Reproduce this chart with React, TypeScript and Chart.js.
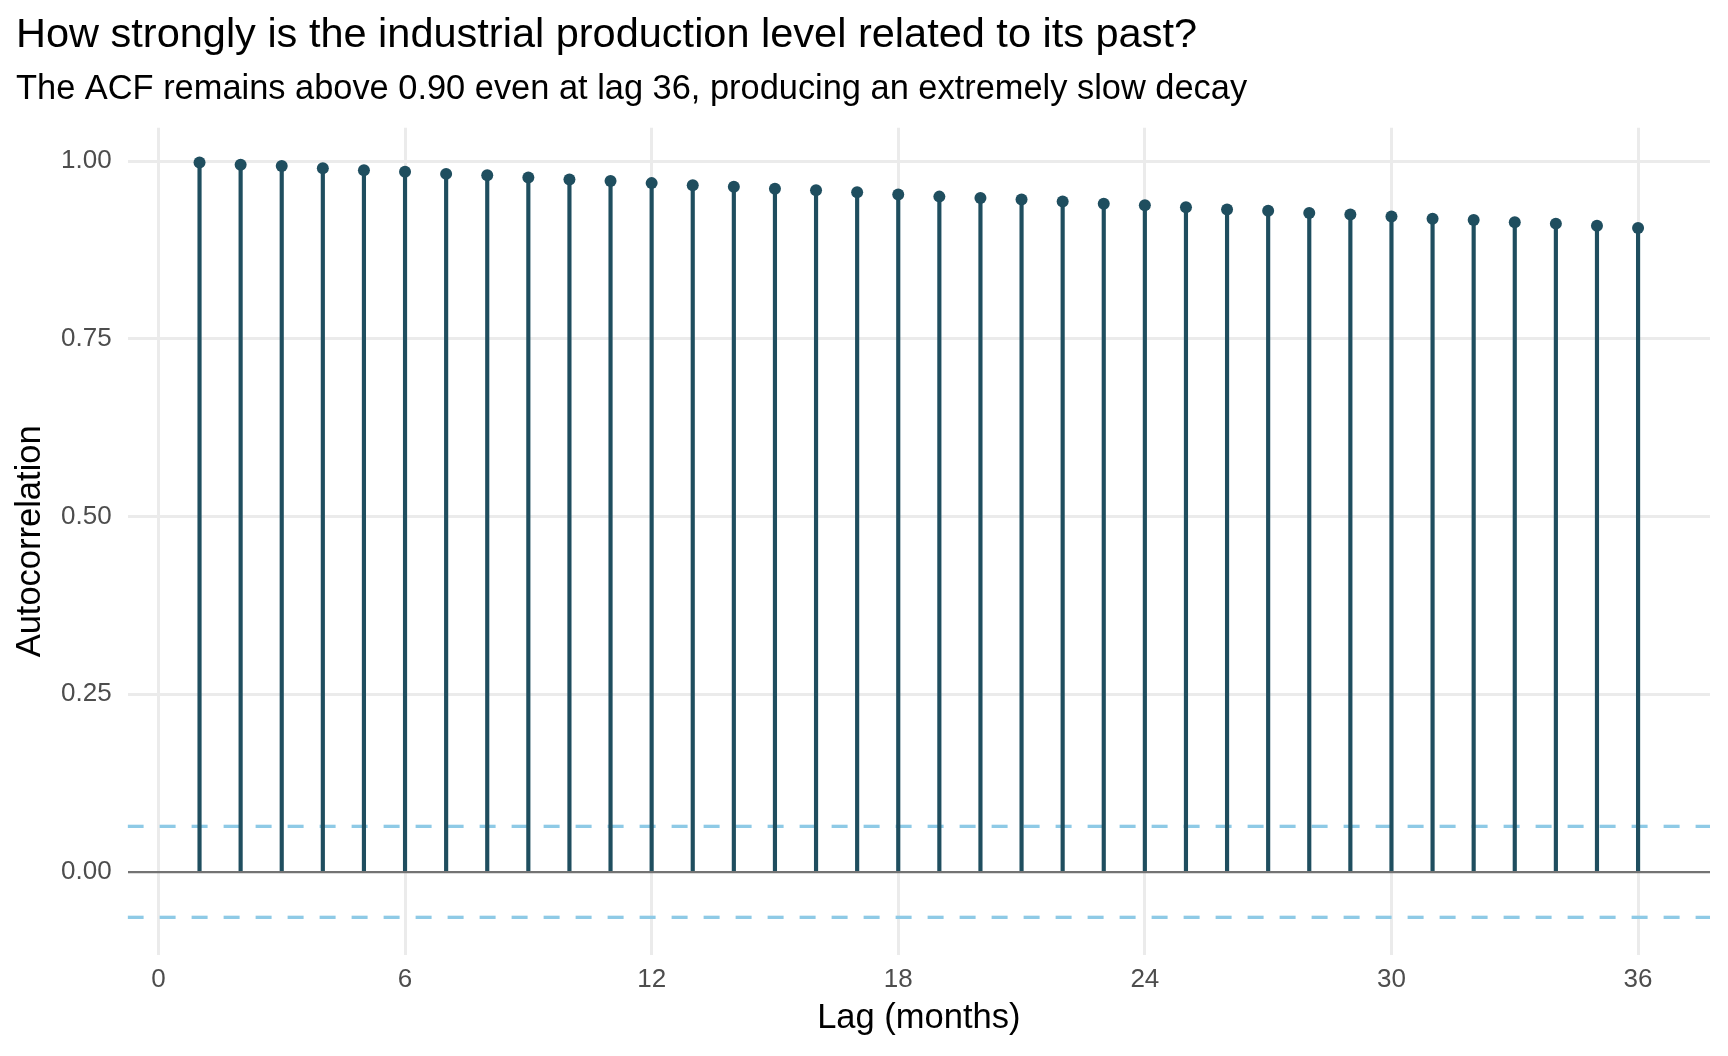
import React, { useEffect, useRef } from 'react';
import { Chart, registerables } from 'chart.js';

Chart.register(...registerables);

// ACF values for lags 1..36
const lags = [
  1, 2, 3, 4, 5, 6, 7, 8, 9, 10, 11, 12, 13, 14, 15, 16, 17, 18,
  19, 20, 21, 22, 23, 24, 25, 26, 27, 28, 29, 30, 31, 32, 33, 34, 35, 36,
];
const acf = [
  0.998, 0.995, 0.993, 0.990, 0.987, 0.985, 0.982, 0.980, 0.977, 0.974, 0.972, 0.969,
  0.966, 0.964, 0.961, 0.959, 0.956, 0.953, 0.950, 0.948, 0.946, 0.943, 0.940, 0.938,
  0.935, 0.932, 0.930, 0.927, 0.925, 0.922, 0.919, 0.917, 0.914, 0.912, 0.909, 0.906,
];
const ciBound = 0.064;
const xTicks = [0, 6, 12, 18, 24, 30, 36];
const yTicks = [0, 0.25, 0.5, 0.75, 1.0];

const X_MIN = -0.75;
const X_MAX = 37.75;
const Y_MIN = -0.117;
const Y_MAX = 1.047;

const STEM = '#1f4e5f';
const CI_COLOR = '#8ecae6';
const FONT = "'Liberation Sans', Arial, Helvetica, sans-serif";

const AcfChart: React.FC = () => {
  const canvasRef = useRef<HTMLCanvasElement>(null);
  const chartRef = useRef<Chart | null>(null);

  useEffect(() => {
    if (!canvasRef.current) return;
    if (chartRef.current) chartRef.current.destroy();
    const ctx = canvasRef.current.getContext('2d');
    if (!ctx) return;

    Chart.defaults.font.family = FONT;

    chartRef.current = new Chart(ctx, {
      type: 'bar',
      data: {
        datasets: [
          {
            type: 'line',
            data: [{ x: X_MIN, y: ciBound }, { x: X_MAX, y: ciBound }],
            borderColor: CI_COLOR,
            borderWidth: 3.3,
            borderDash: [16, 16],
            pointRadius: 0,
            order: 3,
          },
          {
            type: 'line',
            data: [{ x: X_MIN, y: -ciBound }, { x: X_MAX, y: -ciBound }],
            borderColor: CI_COLOR,
            borderWidth: 3.3,
            borderDash: [16, 16],
            pointRadius: 0,
            order: 3,
          },
          {
            type: 'bar',
            data: lags.map((l, i) => ({ x: l, y: acf[i] })),
            backgroundColor: STEM,
            barThickness: 3.5,
            borderWidth: 0,
            order: 2,
          },
          {
            type: 'scatter',
            data: lags.map((l, i) => ({ x: l, y: acf[i] })),
            backgroundColor: STEM,
            borderWidth: 0,
            pointRadius: 6,
            order: 1,
          },
        ] as any,
      },
      options: {
        responsive: false,
        animation: false,
        layout: { padding: { left: 16, right: 18, top: 0, bottom: 0 } },
        plugins: {
          legend: { display: false },
          tooltip: { enabled: false },
          title: {
            display: true,
            text: 'How strongly is the industrial production level related to its past?',
            align: 'start',
            color: '#000000',
            font: { size: 41.5, weight: 'normal', lineHeight: 1.2 },
            padding: { top: 10.2, bottom: 0 },
          },
          subtitle: {
            display: true,
            text: 'The ACF remains above 0.90 even at lag 36, producing an extremely slow decay',
            align: 'start',
            color: '#000000',
            font: { size: 34.4, weight: 'normal', lineHeight: 1.2 },
            padding: { top: 8.7, bottom: 17.7 },
          },
        },
        scales: {
          x: {
            type: 'linear',
            min: X_MIN,
            max: X_MAX,
            offset: false,
            afterBuildTicks: (scale: any) => {
              scale.ticks = xTicks.map((v) => ({ value: v }));
            },
            afterFit: (scale: any) => {
              scale.height = 101;
            },
            grid: { color: '#ebebeb', lineWidth: 3, drawTicks: false, offset: false },
            border: { display: false },
            ticks: {
              color: '#4d4d4d',
              font: { size: 26 },
              padding: 9.7,
              maxRotation: 0,
              autoSkip: false,
              callback: (v: any) => String(v),
            },
            title: {
              display: true,
              text: 'Lag (months)',
              color: '#000000',
              font: { size: 34.5 },
              padding: { top: 0, bottom: 16.6 },
            },
          },
          y: {
            type: 'linear',
            min: Y_MIN,
            max: Y_MAX,
            afterBuildTicks: (scale: any) => {
              scale.ticks = yTicks.map((v) => ({ value: v }));
            },
            afterFit: (scale: any) => {
              scale.width = 111.6;
            },
            grid: {
              color: (c: any) => (c.tick && c.tick.value === 0 ? '#737373' : '#ebebeb'),
              lineWidth: (c: any) => (c.tick && c.tick.value === 0 ? 2.2 : 3),
              drawTicks: false,
            },
            border: { display: false },
            ticks: {
              color: '#4d4d4d',
              font: { size: 26 },
              padding: 16,
              callback: (v: any) => Number(v).toFixed(2),
            },
            title: {
              display: true,
              text: 'Autocorrelation',
              color: '#000000',
              font: { size: 34.5 },
              padding: { top: -6, bottom: 0 },
            },
          },
        },
      },
    });

    return () => {
      if (chartRef.current) {
        chartRef.current.destroy();
        chartRef.current = null;
      }
    };
  }, []);

  return (
    <div style={{ position: 'absolute', left: 0, top: 0, width: 1728, height: 1056, background: '#ffffff' }}>
      <canvas ref={canvasRef} width={1728} height={1056}></canvas>
    </div>
  );
};

export default function App() {
  return <AcfChart />;
}
